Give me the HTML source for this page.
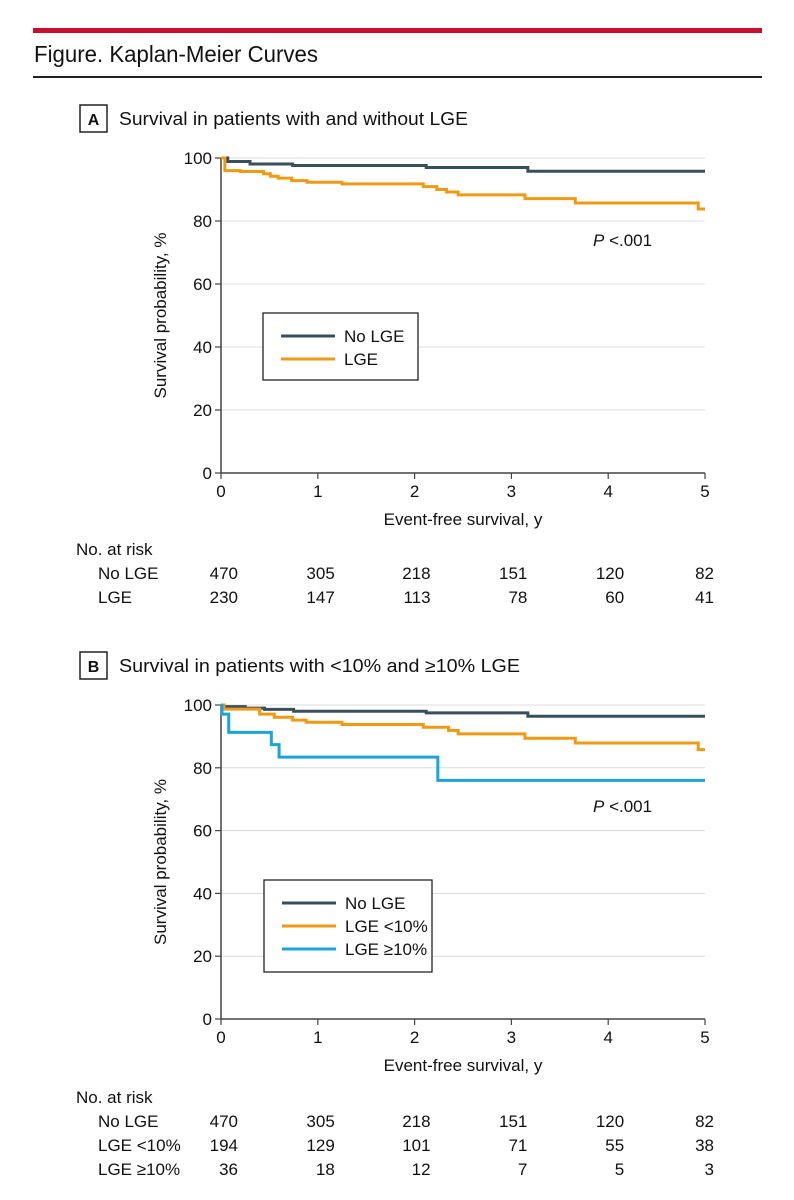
<!DOCTYPE html>
<html><head><meta charset="utf-8"><style>
body{margin:0;background:#fff;}
svg{display:block;font-family:"Liberation Sans",sans-serif;}
</style></head><body>
<svg id="fig" width="794" height="1200" viewBox="0 0 794 1200" xmlns="http://www.w3.org/2000/svg">
<rect x="33" y="28" width="729" height="5" fill="#c8102e"/>
<text x="34" y="62" font-size="23" fill="#111" textLength="284" lengthAdjust="spacingAndGlyphs">Figure. Kaplan-Meier Curves</text>
<rect x="33" y="76" width="729" height="2" fill="#222"/>
<g id="panelA"></g>
<g id="panelB"></g>
</svg>
<script>
// Panel A data
const timesNoA=[0,0.07,0.3,0.74,2.12,3.17,5];
const survNoA=[100,98.9,98.1,97.6,97.0,95.8,95.8];
const timesLgeA=[0,0.04,0.2,0.44,0.51,0.59,0.73,0.89,1.25,2.09,2.23,2.33,2.45,3.14,3.66,4.93,5];
const survLgeA=[100,96.0,95.7,95.0,94.2,93.6,92.8,92.3,91.8,90.9,90.0,89.2,88.3,87.1,85.7,83.8,83.8];
// Panel B data
const timesNoB=[0,0.03,0.25,0.45,0.75,2.12,3.17,5];
const survNoB=[100,99.5,99.0,98.6,98.0,97.5,96.4,96.4];
const timesLtB=[0,0.03,0.4,0.55,0.74,0.88,1.25,2.09,2.35,2.45,3.14,3.66,4.93,5];
const survLtB=[100,98.7,97.1,96.1,95.2,94.5,93.8,92.9,91.9,90.8,89.4,87.9,85.8,85.8];
const timesGeB=[0,0.01,0.08,0.52,0.6,2.24,5];
const survGeB=[100,97.1,91.3,87.4,83.4,76.0,76.0];
const xTicks=[0,1,2,3,4,5];
const yTicks=[0,20,40,60,80,100];
const riskTimes=[0,1,2,3,4,5];
const riskNoA=[470,305,218,151,120,82];
const riskLgeA=[230,147,113,78,60,41];
const riskNoB=[470,305,218,151,120,82];
const riskLtB=[194,129,101,71,55,38];
const riskGeB=[36,18,12,7,5,3];

const NS="http://www.w3.org/2000/svg";
const C_NO="#38505e",C_LGE="#f09a14",C_GE="#1aa3dc";
function el(p,tag,at,txt){const e=document.createElementNS(NS,tag);for(const k in at)e.setAttribute(k,at[k]);if(txt!==undefined)e.textContent=txt;p.appendChild(e);return e;}

function panel(g,o){
  const x0=221,x1=705,yTop=o.yTop,yBot=o.yBot;
  const sx=t=>x0+(x1-x0)*t/5, sy=v=>yBot-(yBot-yTop)*v/100;
  let e=el(g,'rect',{x:80,y:o.yTop-53,width:27,height:27,fill:'none',stroke:'#222','stroke-width':1.5});
  
  e=el(g,'text',{x:93.5,y:o.yTop-33,'font-size':16,'font-weight':'bold','text-anchor':'middle',fill:'#111'},o.letter);
  
  e=el(g,'text',{x:119,y:o.yTop-33,'font-size':18,fill:'#111',textLength:o.titleLen,lengthAdjust:'spacingAndGlyphs'},o.title);
  
  yTicks.forEach(v=>{
    if(v>0){e=el(g,'line',{x1:x0,x2:x1,y1:sy(v),y2:sy(v),stroke:'#dcdcdc','stroke-width':1});
      }
    e=el(g,'line',{x1:x0-6,x2:x0,y1:sy(v),y2:sy(v),stroke:'#444','stroke-width':1.2});
    
    e=el(g,'text',{x:x0-9,y:sy(v)+6,'font-size':17,'text-anchor':'end',fill:'#111'},v);
    
  });
  e=el(g,'line',{x1:x0,x2:x0,y1:yTop,y2:yBot,stroke:'#444','stroke-width':1.5});
  
  e=el(g,'line',{x1:x0,x2:x1,y1:yBot,y2:yBot,stroke:'#444','stroke-width':1.5});
  
  xTicks.forEach(t=>{
    e=el(g,'line',{x1:sx(t),x2:sx(t),y1:yBot,y2:yBot+6,stroke:'#444','stroke-width':1.2});
    
    e=el(g,'text',{x:sx(t),y:yBot+24,'font-size':17,'text-anchor':'middle',fill:'#111'},t);
    
  });
  e=el(g,'text',{x:0,y:0,'font-size':17,'text-anchor':'middle',fill:'#111',transform:`translate(166,${(yTop+yBot)/2}) rotate(-90)`},'Survival probability, %');
  
  e=el(g,'text',{x:463,y:yBot+52,'font-size':17,'text-anchor':'middle',fill:'#111'},'Event-free survival, y');
  
  o.series.forEach(s=>{
    let d=`M${sx(s.t[0])},${sy(s.v[0])}`;
    for(let i=1;i<s.t.length;i++){d+=` H${sx(s.t[i])} V${sy(s.v[i])}`;}
    e=el(g,'path',{d:d,fill:'none',stroke:s.c,'stroke-width':3});
    
  });
  e=el(g,'text',{x:593,y:sy(o.pv),'font-size':17,fill:'#111'});
  
  el(e,'tspan',{'font-style':'italic'},'P');el(e,'tspan',{},' <.001');
  const L=o.legend;
  e=el(g,'rect',{x:L.x,y:L.y,width:L.w,height:L.h,fill:'#fff',stroke:'#222','stroke-width':1.3});
  
  o.series.forEach((s,i)=>{
    const yy=L.y+23+i*23;
    e=el(g,'line',{x1:L.x+18,x2:L.x+72,y1:yy,y2:yy,stroke:s.c,'stroke-width':3});
    
    e=el(g,'text',{x:L.x+81,y:yy+6,'font-size':17,fill:'#111'},s.label);
    
  });
  const ry=o.riskY;
  e=el(g,'text',{x:76,y:ry,'font-size':17,fill:'#111'},'No. at risk');
  
  const offs=[17,17,16,16,16,9];
  o.risk.forEach((r,i)=>{
    const yy=ry+24*(i+1);
    e=el(g,'text',{x:98,y:yy,'font-size':17,fill:'#111'},r.label);
    
    r.vals.forEach((v,j)=>{
      e=el(g,'text',{x:sx(riskTimes[j])+offs[j],y:yy,'font-size':17,'text-anchor':'end',fill:'#111'},v);
      
    });
  });
}
panel(document.getElementById('panelA'),{letter:'A',title:'Survival in patients with and without LGE',titleLen:349,yTop:158,yBot:473,pv:72,
  series:[{t:timesNoA,v:survNoA,c:C_NO,name:'no-lge-curve',label:'No LGE'},{t:timesLgeA,v:survLgeA,c:C_LGE,name:'lge-curve',label:'LGE'}],
  legend:{x:263,y:313,w:155,h:67},riskY:555,
  risk:[{label:'No LGE',vals:riskNoA},{label:'LGE',vals:riskLgeA}]});
panel(document.getElementById('panelB'),{letter:'B',title:'Survival in patients with <10% and ≥10% LGE',titleLen:401,yTop:705,yBot:1019,pv:66,
  series:[{t:timesNoB,v:survNoB,c:C_NO,name:'no-lge-curve',label:'No LGE'},{t:timesLtB,v:survLtB,c:C_LGE,name:'lge-lt10-curve',label:'LGE <10%'},{t:timesGeB,v:survGeB,c:C_GE,name:'lge-ge10-curve',label:'LGE ≥10%'}],
  legend:{x:264,y:880,w:168,h:92},riskY:1103,
  risk:[{label:'No LGE',vals:riskNoB},{label:'LGE <10%',vals:riskLtB},{label:'LGE ≥10%',vals:riskGeB}]});
</script>
</body></html>
